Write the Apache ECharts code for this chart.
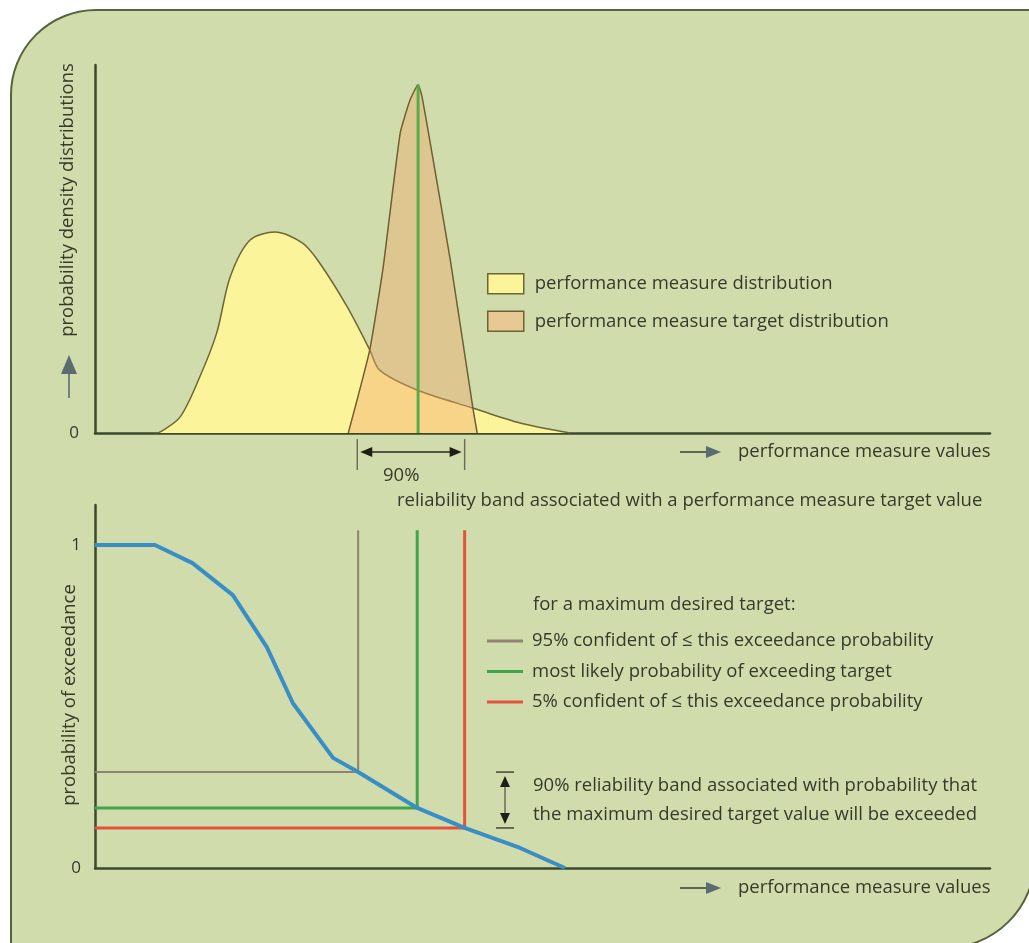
<!DOCTYPE html>
<html><head><meta charset="utf-8">
<script src="https://cdn.jsdelivr.net/npm/echarts@6/dist/echarts.min.js"></script>
<style>html,body{margin:0;padding:0;background:#fff;}#c{width:1029px;height:943px;}</style>
</head><body><div id="c"></div>
<script>
// ---- data (x in relative performance-measure units 0..100) ----
const pmX = [6.7, 7.3, 9.5, 11.7, 13.6, 15.1, 17.3, 20.1, 23.2, 25.1, 28.2, 30.7, 31.8, 36.0, 42.2, 47.5, 53.1];
const pmY = [0, 0.3, 4.3, 15.2, 27.2, 42.4, 52.4, 54.6, 51.6, 46.2, 34.2, 22.6, 17.1, 11.7, 6.8, 2.7, 0];
const tgX = [28.3, 30.7, 32.2, 34.1, 35.2, 36.1, 36.5, 37.4, 39.7, 42.2, 42.7];
const tgY = [0, 22.6, 45.1, 81.5, 90.5, 94.6, 91.8, 79.6, 47.0, 7.1, 0];
const targetMode = 36.1;
const targetPeak = 94.6;
const band90 = [29.3, 41.3];
const exX = [0, 6.7, 10.9, 15.4, 19.2, 22.1, 26.6, 29.4, 36.0, 41.3, 47.5, 52.5];
const exP = [1.0, 1.0, 0.944, 0.845, 0.684, 0.511, 0.341, 0.297, 0.186, 0.124, 0.062, 0];
const confX = [29.4, 36.0, 41.3];
const confP = [0.297, 0.186, 0.124];
const confTop = 1.046;
const confNames = ['95% confident of \u2264 this exceedance probability', 'most likely probability of exceeding target', '5% confident of \u2264 this exceedance probability'];
const confColors = ['#8f8270', '#3fa54b', '#e2533f'];
const distNames = ['performance measure distribution', 'performance measure target distribution'];
const topYTicks = [0];
const botYTicks = [0, 1];

const FONT = "'Open Sans', sans-serif";
const TXT = '#363a2a';
const AX = '#3b4a2b';
const FS = 18.5;
const pairs = (xs, ys) => xs.map((x, i) => [x, ys[i]]);

const chart = echarts.init(document.getElementById('c'));

const series = [
  { name: distNames[0], type: 'line', xAxisIndex: 0, yAxisIndex: 0, data: pairs(pmX, pmY), symbol: 'none', smooth: 0.3,
    lineStyle: { color: '#6e6636', width: 1.5 }, itemStyle: { color: '#fbf49b' }, areaStyle: { color: '#fbf49b', opacity: 1 }, z: 2 },
  { name: distNames[1], type: 'line', xAxisIndex: 0, yAxisIndex: 0, data: pairs(tgX, tgY), symbol: 'none', smooth: 0.15,
    lineStyle: { color: '#6e6030', width: 1.5 }, itemStyle: { color: '#e9c993' }, areaStyle: { color: 'rgba(240,166,108,0.42)', opacity: 1 }, z: 3 },
  { name: 'mode', type: 'line', xAxisIndex: 0, yAxisIndex: 0, data: [[targetMode, 0], [targetMode, targetPeak]], symbol: 'none',
    lineStyle: { color: '#5aab4c', width: 3 }, z: 4 }
];
confX.forEach((x, i) => {
  series.push({ name: confNames[i], type: 'line', xAxisIndex: 1, yAxisIndex: 1, symbol: 'none',
    data: [[0, confP[i]], [x, confP[i]], [x, confTop]],
    lineStyle: { color: confColors[i], width: i === 0 ? 2 : 3 }, itemStyle: { color: confColors[i] }, z: 3 });
});
series.push({ name: 'exceedance', type: 'line', xAxisIndex: 1, yAxisIndex: 1, symbol: 'none', data: pairs(exX, exP),
  lineStyle: { color: '#3a8ec6', width: 4 }, z: 5 });

const axisLine = { show: true, onZero: false, lineStyle: { color: AX, width: 2.5 } };
const xAx = gi => ({ type: 'value', gridIndex: gi, min: 0, max: 100, axisLine, axisTick: { show: false }, axisLabel: { show: false }, splitLine: { show: false } });

chart.setOption({
  backgroundColor: '#ffffff',
  textStyle: { fontFamily: FONT },
  animation: false,
  grid: [
    { left: 95, top: 65, width: 895, height: 368 },
    { left: 95, top: 505, width: 895, height: 363 }
  ],
  xAxis: [xAx(0), xAx(1)],
  yAxis: [
    { type: 'value', gridIndex: 0, min: 0, max: 100, axisLine, axisTick: { show: false }, splitLine: { show: false },
      axisLabel: { customValues: topYTicks, formatter: v => String(v), color: TXT, fontSize: 17, margin: 16, fontFamily: FONT } },
    { type: 'value', gridIndex: 1, min: 0, max: 1.124, axisLine, axisTick: { show: false }, splitLine: { show: false },
      axisLabel: { customValues: botYTicks, formatter: v => String(v), color: TXT, fontSize: 17, margin: 14, fontFamily: FONT } }
  ],
  legend: [
    { left: 487, top: 273, padding: 0, orient: 'vertical', itemWidth: 36, itemHeight: 20, itemGap: 16, icon: 'rect', selectedMode: false,
      textStyle: { fontSize: FS, color: TXT, fontFamily: FONT, padding: [0, 0, 0, 6] },
      data: [
        { name: distNames[0], itemStyle: { color: '#fbf49b', borderColor: '#6b6434', borderWidth: 1.5 } },
        { name: distNames[1], itemStyle: { color: '#e9c993', borderColor: '#6b6434', borderWidth: 1.5 } }
      ] },
    { left: 487, top: 631, padding: 0, orient: 'vertical', itemWidth: 36, itemHeight: 3, itemGap: 10.5, icon: 'rect', selectedMode: false,
      textStyle: { fontSize: FS, color: TXT, fontFamily: FONT, lineHeight: 20, padding: [0, 0, 0, 4] },
      data: confNames.map((n, i) => ({ name: n, itemStyle: { color: confColors[i] } })) }
  ],
  series
});

// ---- annotations positioned through the axes ----
const p0 = chart.convertToPixel({ gridIndex: 0 }, [0, 0]);
const bA = chart.convertToPixel({ gridIndex: 0 }, [band90[0], 0]);
const bB = chart.convertToPixel({ gridIndex: 0 }, [band90[1], 0]);
const cTop = chart.convertToPixel({ gridIndex: 1 }, [0, confP[0]]);
const cBot = chart.convertToPixel({ gridIndex: 1 }, [0, confP[2]]);
const q0 = chart.convertToPixel({ gridIndex: 1 }, [0, 0]);

const txt = (x, y, text, extra) => Object.assign({ type: 'text', x, y, z: 10,
  style: Object.assign({ text, fill: TXT, font: FS + 'px ' + FONT, align: 'left', verticalAlign: 'middle' }, extra || {}) });
const ln = (x1, y1, x2, y2, stroke, w) => ({ type: 'line', z: 10, shape: { x1, y1, x2, y2 }, style: { stroke, lineWidth: w } });
const tri = (pts, fill) => ({ type: 'polygon', z: 10, shape: { points: pts }, style: { fill } });

const yA = p0[1] + 19;
const xArrow = (y) => [
  ln(680, y, 707, y, '#3d4a3e', 1.6),
  tri([[706, y - 6], [706, y + 6], [721, y]], '#5b6b72'),
  txt(738, y, 'performance measure values')
];
const dx = 505;
const g = [
  { type: 'rect', z: -10, shape: { x: 11, y: 10, width: 1024, height: 938, r: [85, 0, 90, 0] },
    style: { fill: '#d1dcac', stroke: '#56643c', lineWidth: 2 } },
  txt(68, 200, 'probability density distributions', { align: 'center' }),
  ln(69, 398, 69, 372, '#5b6b72', 1.6),
  tri([[69, 355], [61, 374], [77, 374]], '#5b6b72'),
  Object.assign(txt(70, 695, 'probability of exceedance', { align: 'center' }), { rotation: Math.PI / 2 }),
  ...xArrow(p0[1] + 19),
  ...xArrow(q0[1] + 20),
  // 90% band on target distribution
  ln(bA[0], p0[1] + 6, bA[0], p0[1] + 37, '#6a6a5a', 1.4),
  ln(bB[0], p0[1] + 6, bB[0], p0[1] + 37, '#6a6a5a', 1.4),
  ln(bA[0] + 8, yA, bB[0] - 8, yA, '#2a2a22', 1.5),
  tri([[bA[0] + 3, yA], [bA[0] + 15, yA - 5], [bA[0] + 15, yA + 5]], '#1e1e18'),
  tri([[bB[0] - 3, yA], [bB[0] - 15, yA - 5], [bB[0] - 15, yA + 5]], '#1e1e18'),
  txt(383, 476, '90%'),
  txt(397, 501, 'reliability band associated with a performance measure target value'),
  // bottom legend heading
  txt(533, 605, 'for a maximum desired target:'),
  // 90% band on exceedance probability
  ln(dx - 9, cTop[1], dx + 9, cTop[1], '#3a3a30', 1.4),
  ln(dx - 9, cBot[1], dx + 9, cBot[1], '#3a3a30', 1.4),
  ln(dx, cTop[1] + 8, dx, cBot[1] - 8, '#6a6a5a', 1.5),
  tri([[dx, cTop[1] + 4], [dx - 5, cTop[1] + 15], [dx + 5, cTop[1] + 15]], '#1e1e18'),
  tri([[dx, cBot[1] - 4], [dx - 5, cBot[1] - 15], [dx + 5, cBot[1] - 15]], '#1e1e18'),
  txt(533, 786, '90% reliability band associated with probability that'),
  txt(533, 815, 'the maximum desired target value will be exceeded')
];
g[1].rotation = Math.PI / 2;
chart.setOption({ graphic: g });
</script></body></html>
